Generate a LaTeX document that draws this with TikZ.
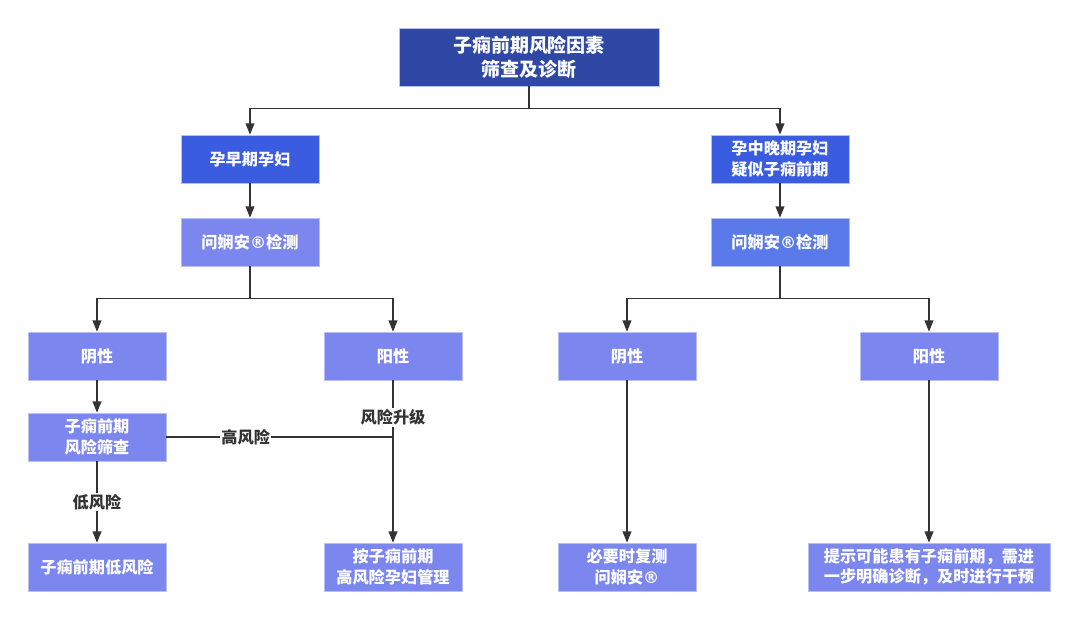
\documentclass[tikz,border=0pt]{standalone}
\usepackage{fontspec}
\setmainfont{Noto Sans CJK SC}
\newfontfamily\symfont{DejaVu Sans}
\newcommand{\regmark}{{\symfont\bfseries ®}}
\usetikzlibrary{arrows.meta}
\definecolor{topblue}{HTML}{2F48A6}
\definecolor{midblue}{HTML}{3A5CE0}
\definecolor{testblue}{HTML}{597AE8}
\definecolor{lightblue}{HTML}{7B86EE}
\definecolor{edgeline}{HTML}{B9BFF5}
\definecolor{linegray}{HTML}{333333}
\tikzset{
  boxv/.style={draw=edgeline,line width=0.5pt,fill=lightblue,text=white,align=center,
    font=\fontsize{11.5}{14.5}\selectfont\bfseries,minimum width=3.45cm,minimum height=1.2cm,inner sep=2pt},
  topv/.style={boxv,fill=topblue,font=\fontsize{13.5}{17}\selectfont\bfseries,minimum width=6.5cm,minimum height=1.45cm},
  groupv/.style={boxv,fill=midblue},
  testv/.style={boxv},
  arr/.style={linegray,line width=0.8pt,-{Triangle[length=2.8mm,width=2.2mm]}},
  plain/.style={linegray,line width=0.8pt},
  lab/.style={fill=white,text=linegray,font=\fontsize{11.5}{14}\selectfont\bfseries,inner sep=1pt}
}
\begin{document}
\begin{tikzpicture}[x=0.025cm,y=-0.025cm]
  \useasboundingbox (0,0) rectangle (1080,620);
  % levels
  \node[topv] (top) at (529,57) {子痫前期风险因素\\筛查及诊断};
  \node[groupv] (g1) at (250,159) {孕早期孕妇};
  \node[groupv] (g2) at (780,159) {孕中晚期孕妇\\疑似子痫前期};
  \node[testv] (t1) at (250,242) {问娴安\regmark 检测};
  \node[testv,fill=testblue] (t2) at (780,242) {问娴安\regmark 检测};
  \foreach \x/\n/\txt in {97/n1/阴性,393/p1/阳性,627/n2/阴性,929/p2/阳性}
    \node[boxv] (\n) at (\x,356) {\txt};
  \node[boxv] (s1) at (97,437) {子痫前期\\风险筛查};
  \node[boxv] (b1) at (97,567) {子痫前期低风险};
  \node[boxv] (b2) at (393,567) {按子痫前期\\高风险孕妇管理};
  \node[boxv] (b3) at (627,567) {必要时复测\\问娴安\regmark};
  \node[boxv,minimum width=6.05cm] (b4) at (929,567) {提示可能患有子痫前期，需进\\一步明确诊断，及时进行干预};
  % connectors
  \draw[arr] (top.south) -- ++(0,22) -| (g1.north);
  \draw[arr] (top.south) -- ++(0,22) -| (g2.north);
  \draw[arr] (g1) -- (t1);
  \draw[arr] (g2) -- (t2);
  \draw[arr] (t1.south) -- ++(0,32) -| (n1.north);
  \draw[arr] (t1.south) -- ++(0,32) -| (p1.north);
  \draw[arr] (t2.south) -- ++(0,32) -| (n2.north);
  \draw[arr] (t2.south) -- ++(0,32) -| (p2.north);
  \draw[arr] (n1) -- (s1);
  \draw[arr] (s1) -- node[lab] {低风险} (b1);
  \draw[arr] (p1) -- node[lab,pos=0.23] {风险升级} (b2);
  \draw[plain] (s1.east) -- node[lab,pos=0.35] {高风险} (s1.east -| p1);
  \draw[arr] (n2) -- (b3);
  \draw[arr] (p2) -- (b4);
\end{tikzpicture}
\end{document}
